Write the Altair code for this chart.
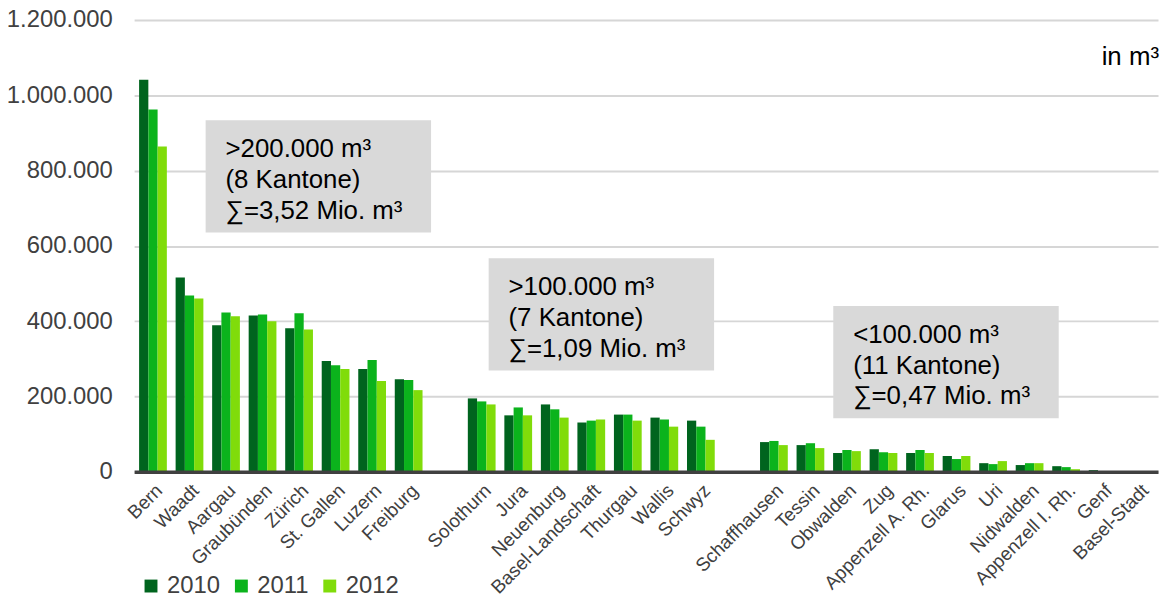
import altair as alt
import pandas as pd

cantons = ["Bern", "Waadt", "Aargau", "Graubünden", "Zürich", "St. Gallen", "Luzern", "Freiburg", " ",
           "Solothurn", "Jura", "Neuenburg", "Basel-Landschaft", "Thurgau", "Wallis", "Schwyz", "  ",
           "Schaffhausen", "Tessin", "Obwalden", "Zug", "Appenzell A. Rh.", "Glarus", "Uri", "Nidwalden",
           "Appenzell I. Rh.", "Genf", "Basel-Stadt"]
data_cantons = [c for c in cantons if c.strip()]
years = ["2010", "2011", "2012"]
v2010 = [1041000, 516000, 389000, 415000, 381000, 294000, 273000, 246000,
         195000, 150000, 179000, 131000, 152000, 144000, 136000,
         79000, 71000, 50000, 60000, 50000, 42000, 23000, 18000, 15000, 4500, 500]
v2011 = [962000, 468000, 423000, 418000, 421000, 283000, 297000, 244000,
         187000, 171000, 166000, 136000, 152000, 139000, 120000,
         82000, 76000, 58000, 52000, 58000, 34000, 20500, 23000, 12500, 2000, 300]
v2012 = [864000, 460000, 413000, 400000, 378000, 273000, 241000, 217000,
         179000, 150000, 144000, 139000, 136000, 120000, 85000,
         71000, 63000, 55000, 50000, 50000, 42000, 28500, 23000, 7000, 2000, 300]
colors = ["#00641E", "#0BB31C", "#80DC0A"]
y_ticks = [0, 200000, 400000, 600000, 800000, 1000000, 1200000]

box_lines = [[">200.000 m³", "(8 Kantone)", "∑=3,52 Mio. m³"],
             [">100.000 m³", "(7 Kantone)", "∑=1,09 Mio. m³"],
             ["<100.000 m³", "(11 Kantone)", "∑=0,47 Mio. m³"]]

rows = []
for vals, yr in zip([v2010, v2011, v2012], years):
    for c, v in zip(data_cantons, vals):
        rows.append({"Kanton": c, "Jahr": yr, "Wert": v})
df = pd.DataFrame(rows)

# annotation box placement (pixels within the plot area)
box_x = [72, 357, 704]
box_y = [101, 240, 288]
box_w = 227
box_h = 113
boxes = pd.DataFrame({"x0": box_x, "x1": [x + box_w for x in box_x],
                      "y0": box_y, "y1": [y + box_h for y in box_y]})
trows = []
for bx, by, lines in zip(box_x, box_y, box_lines):
    for i, t in enumerate(lines):
        trows.append({"tx": bx + 20, "ty": by + 37 + 31 * i, "t": t})
texts = pd.DataFrame(trows)

FONT = "Liberation Sans"

bars = alt.Chart(df).mark_bar().encode(
    x=alt.X("Kanton:N", sort=cantons,
            scale=alt.Scale(domain=cantons, paddingInner=0.24, paddingOuter=0.136),
            axis=alt.Axis(title=None, labelAngle=-45, labelAlign="right", labelBaseline="top",
                          labelFontSize=19, labelColor="#404040", labelPadding=9,
                          ticks=False, domainColor="#404040", domainWidth=3.5,
                          zindex=1, grid=False)),
    xOffset=alt.XOffset("Jahr:N", sort=years, scale=alt.Scale(paddingInner=0, paddingOuter=0)),
    y=alt.Y("Wert:Q", scale=alt.Scale(domain=[0, 1200000], nice=False),
            axis=alt.Axis(title=None, values=y_ticks, domain=False, ticks=False,
                          labelFontSize=24, labelColor="#404040", labelPadding=22,
                          gridColor="#d6d6d6", gridWidth=2,
                          labelExpr="replace(format(datum.value, ','), regexp(',', 'g'), '.')")),
    color=alt.Color("Jahr:N", sort=years, scale=alt.Scale(domain=years, range=colors),
                    legend=alt.Legend(title=None, orient="none", legendX=5, legendY=558,
                                      direction="horizontal", symbolType="square",
                                      symbolSize=169, symbolStrokeWidth=0,
                                      labelFontSize=24, labelColor="#404040",
                                      labelOffset=4, columnPadding=9, padding=0)),
)

rects = alt.Chart(boxes).mark_rect(color="#d9d9d9").encode(
    x=alt.X("x0:Q", scale=None, axis=None), x2="x1",
    y=alt.Y("y0:Q", scale=None, axis=None), y2="y1",
)

labels = alt.Chart(texts).mark_text(align="left", baseline="alphabetic", fontSize=26,
                                    font=FONT, color="#000000").encode(
    x=alt.X("tx:Q", scale=None, axis=None),
    y=alt.Y("ty:Q", scale=None, axis=None),
    text="t:N",
)

unit = alt.Chart(pd.DataFrame({"t": ["in m³"]})).mark_text(
    align="right", baseline="alphabetic", fontSize=26, font=FONT, color="#000000"
).encode(x=alt.value(1032), y=alt.value(45), text="t:N")

chart = alt.layer(bars, rects, labels, unit).resolve_scale(
    x="independent", y="independent"
).properties(
    width=1031, height=455,
    autosize=alt.AutoSizeParams(type="none"),
    padding={"left": 127, "top": 10, "right": 2, "bottom": 126},
).configure(font=FONT).configure_view(stroke=None)

chart.save("out.html", embed_options={"renderer": "svg", "actions": False})
